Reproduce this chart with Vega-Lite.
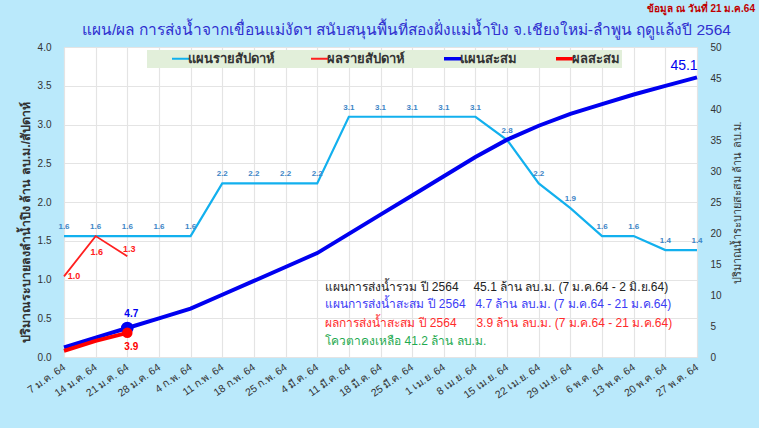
{
  "$schema": "https://vega.github.io/schema/vega-lite/v6.json",
  "width": 633,
  "height": 310,
  "autosize": "none",
  "padding": {"left": 64, "top": 47, "right": 62, "bottom": 71},
  "background": "#bae9fb",
  "title": {
    "text": "แผน/ผล การส่งน้ำจากเขื่อนแม่งัดฯ สนับสนุนพื้นที่สองฝั่งแม่น้ำปิง จ.เชียงใหม่-ลำพูน ฤดูแล้งปี 2564",
    "fontSize": 15.5,
    "fontWeight": "normal",
    "color": "#3030d0",
    "anchor": "middle",
    "frame": "group",
    "dx": 26,
    "offset": -34
  },
  "config": {
    "view": {"fill": "white", "stroke": "#d8d8d8"},
    "axis": {"labelColor": "#333333", "labelFontSize": 10, "gridColor": "#e4e4e4", "gridWidth": 1.2, "ticks": false, "domain": false}
  },
  "datasets": {
    "weekly": [
      {"d": "7 ม.ค. 64", "plan": 1.56, "actual": 1.04},
      {"d": "14 ม.ค. 64", "plan": 1.56, "actual": 1.56},
      {"d": "21 ม.ค. 64", "plan": 1.56, "actual": 1.3},
      {"d": "28 ม.ค. 64", "plan": 1.56},
      {"d": "4 ก.พ. 64", "plan": 1.56},
      {"d": "11 ก.พ. 64", "plan": 2.24},
      {"d": "18 ก.พ. 64", "plan": 2.24},
      {"d": "25 ก.พ. 64", "plan": 2.24},
      {"d": "4 มี.ค. 64", "plan": 2.24},
      {"d": "11 มี.ค. 64", "plan": 3.1},
      {"d": "18 มี.ค. 64", "plan": 3.1},
      {"d": "25 มี.ค. 64", "plan": 3.1},
      {"d": "1 เม.ย. 64", "plan": 3.1},
      {"d": "8 เม.ย. 64", "plan": 3.1},
      {"d": "15 เม.ย. 64", "plan": 2.8},
      {"d": "22 เม.ย. 64", "plan": 2.24},
      {"d": "29 เม.ย. 64", "plan": 1.92},
      {"d": "6 พ.ค. 64", "plan": 1.56},
      {"d": "13 พ.ค. 64", "plan": 1.56},
      {"d": "20 พ.ค. 64", "plan": 1.38},
      {"d": "27 พ.ค. 64", "plan": 1.38}
    ],
    "cum": [
      {"d": "7 ม.ค. 64", "plan": 1.56, "actual": 1.0},
      {"d": "14 ม.ค. 64", "plan": 3.12, "actual": 2.6},
      {"d": "21 ม.ค. 64", "plan": 4.68, "actual": 3.9},
      {"d": "28 ม.ค. 64", "plan": 6.24},
      {"d": "4 ก.พ. 64", "plan": 7.8},
      {"d": "11 ก.พ. 64", "plan": 10.04},
      {"d": "18 ก.พ. 64", "plan": 12.28},
      {"d": "25 ก.พ. 64", "plan": 14.52},
      {"d": "4 มี.ค. 64", "plan": 16.76},
      {"d": "11 มี.ค. 64", "plan": 19.86},
      {"d": "18 มี.ค. 64", "plan": 22.96},
      {"d": "25 มี.ค. 64", "plan": 26.06},
      {"d": "1 เม.ย. 64", "plan": 29.16},
      {"d": "8 เม.ย. 64", "plan": 32.26},
      {"d": "15 เม.ย. 64", "plan": 35.06},
      {"d": "22 เม.ย. 64", "plan": 37.3},
      {"d": "29 เม.ย. 64", "plan": 39.22},
      {"d": "6 พ.ค. 64", "plan": 40.78},
      {"d": "13 พ.ค. 64", "plan": 42.34},
      {"d": "20 พ.ค. 64", "plan": 43.72},
      {"d": "27 พ.ค. 64", "plan": 45.1}
    ],
    "notes": [
      {"k": "total", "a": "แผนการส่งน้ำรวม ปี 2564", "b": "45.1 ล้าน ลบ.ม. (7 ม.ค.64 - 2 มิ.ย.64)"},
      {"k": "plancum", "a": "แผนการส่งน้ำสะสม ปี 2564", "b": "4.7 ล้าน ลบ.ม. (7 ม.ค.64 - 21 ม.ค.64)"},
      {"k": "actcum", "a": "ผลการส่งน้ำสะสม ปี 2564", "b": "3.9 ล้าน ลบ.ม. (7 ม.ค.64 - 21 ม.ค.64)"},
      {"k": "remain", "a": "โควตาคงเหลือ 41.2 ล้าน ลบ.ม.", "b": ""}
    ],
    "stamp": [{"t": "ข้อมูล ณ วันที่ 21 ม.ค.64"}]
  },
  "encoding": {
    "x": {
      "field": "d",
      "type": "ordinal",
      "scale": {
        "type": "point",
        "padding": 0,
        "domain": ["7 ม.ค. 64", "14 ม.ค. 64", "21 ม.ค. 64", "28 ม.ค. 64", "4 ก.พ. 64", "11 ก.พ. 64", "18 ก.พ. 64", "25 ก.พ. 64", "4 มี.ค. 64", "11 มี.ค. 64", "18 มี.ค. 64", "25 มี.ค. 64", "1 เม.ย. 64", "8 เม.ย. 64", "15 เม.ย. 64", "22 เม.ย. 64", "29 เม.ย. 64", "6 พ.ค. 64", "13 พ.ค. 64", "20 พ.ค. 64", "27 พ.ค. 64"]
      },
      "axis": {"title": null, "labelAngle": -35, "labelAlign": "right", "labelBaseline": "middle", "labelPadding": 9, "labelFontSize": 10.5, "grid": true}
    }
  },
  "layer": [
    {
      "data": {"name": "weekly"},
      "layer": [
        {
          "mark": {"type": "line", "strokeWidth": 2.2},
          "encoding": {
            "y": {
              "field": "plan",
              "type": "quantitative",
              "scale": {"domain": [0, 4], "nice": false},
              "axis": {
                "orient": "left",
                "values": [0, 0.5, 1, 1.5, 2, 2.5, 3, 3.5, 4],
                "tickCount": 20,
                "labelOverlap": false,
                "format": ".1f",
                "grid": true,
                "labelPadding": 13,
                "title": "ปริมาณระบายลงลำน้ำปิง   ล้าน   ลบ.ม./สัปดาห์",
                "titleFontSize": 12.5,
                "titleFontWeight": "bold",
                "titleColor": "#333333",
                "titlePadding": 5,
                "titleY": 175
              }
            },
            "color": {
              "datum": "แผนรายสัปดาห์",
              "scale": {
                "domain": ["แผนรายสัปดาห์", "ผลรายสัปดาห์", "แผนสะสม", "ผลสะสม"],
                "range": ["#12b0ee", "#ff2020", "#0000f0", "#ff0000"]
              },
              "legend": {
                "orient": "none",
                "legendX": 83,
                "legendY": 3,
                "direction": "horizontal",
                "title": "\u2003",
                "titleOrient": "left",
                "titlePadding": 25,
                "titleFontSize": 13,
                "fillColor": "#e2efda",
                "padding": 2,
                "symbolType": "stroke",
                "symbolSize": 289,
                "symbolStrokeWidth": 2,
                "labelFontSize": 13,
                "labelFontWeight": "bold",
                "labelColor": "#333333",
                "labelOffset": 1,
                "columnPadding": 32,
                "encode": {"symbols": {"update": {"strokeWidth": {"signal": "datum.value == 'แผนสะสม' || datum.value == 'ผลสะสม' ? 3.5 : 2"}}}}
              }
            }
          }
        },
        {
          "transform": [{"filter": "isValid(datum.actual)"}],
          "mark": {"type": "line", "strokeWidth": 1.8},
          "encoding": {
            "y": {"field": "actual", "type": "quantitative"},
            "color": {"datum": "ผลรายสัปดาห์"}
          }
        },
        {
          "mark": {"type": "text", "dy": -9, "fontSize": 8, "fontWeight": "bold", "fill": "#3d85c6"},
          "encoding": {
            "y": {"field": "plan", "type": "quantitative"},
            "text": {"field": "plan", "type": "quantitative", "format": ".1f"}
          }
        },
        {
          "transform": [{"filter": "datum.d == '7 ม.ค. 64'"}],
          "mark": {"type": "text", "dx": 10, "fontSize": 9, "fontWeight": "bold", "fill": "#ff2020"},
          "encoding": {
            "y": {"field": "actual", "type": "quantitative"},
            "text": {"field": "actual", "type": "quantitative", "format": ".1f"}
          }
        },
        {
          "transform": [{"filter": "datum.d == '14 ม.ค. 64'"}],
          "mark": {"type": "text", "dx": 1, "dy": 16, "fontSize": 9, "fontWeight": "bold", "fill": "#ff2020"},
          "encoding": {
            "y": {"field": "actual", "type": "quantitative"},
            "text": {"field": "actual", "type": "quantitative", "format": ".1f"}
          }
        },
        {
          "transform": [{"filter": "datum.d == '21 ม.ค. 64'"}],
          "mark": {"type": "text", "dx": 2, "dy": -7, "fontSize": 9, "fontWeight": "bold", "fill": "#ff2020"},
          "encoding": {
            "y": {"field": "actual", "type": "quantitative"},
            "text": {"field": "actual", "type": "quantitative", "format": ".1f"}
          }
        },
        {
          "data": {"name": "notes"},
          "transform": [{"filter": "datum.k == 'total'"}],
          "layer": [
            {"mark": {"type": "text", "align": "left", "dx": 8, "fontSize": 12, "fill": "#222222"},
             "encoding": {"x": {"datum": "4 มี.ค. 64"}, "y": {"datum": 0.9}, "text": {"field": "a"}}},
            {"mark": {"type": "text", "align": "left", "dx": -2, "fontSize": 12, "fill": "#222222"},
             "encoding": {"x": {"datum": "8 เม.ย. 64"}, "y": {"datum": 0.9}, "text": {"field": "b"}}}
          ]
        },
        {
          "data": {"name": "notes"},
          "transform": [{"filter": "datum.k == 'plancum'"}],
          "layer": [
            {"mark": {"type": "text", "align": "left", "dx": 8, "fontSize": 12, "fill": "#3c3cf5"},
             "encoding": {"x": {"datum": "4 มี.ค. 64"}, "y": {"datum": 0.68}, "text": {"field": "a"}}},
            {"mark": {"type": "text", "align": "left", "dx": 0, "fontSize": 12, "fill": "#3c3cf5"},
             "encoding": {"x": {"datum": "8 เม.ย. 64"}, "y": {"datum": 0.68}, "text": {"field": "b"}}}
          ]
        },
        {
          "data": {"name": "notes"},
          "transform": [{"filter": "datum.k == 'actcum'"}],
          "layer": [
            {"mark": {"type": "text", "align": "left", "dx": 8, "fontSize": 12, "fill": "#ff2b2b"},
             "encoding": {"x": {"datum": "4 มี.ค. 64"}, "y": {"datum": 0.44}, "text": {"field": "a"}}},
            {"mark": {"type": "text", "align": "left", "dx": 1, "fontSize": 12, "fill": "#ff2b2b"},
             "encoding": {"x": {"datum": "8 เม.ย. 64"}, "y": {"datum": 0.44}, "text": {"field": "b"}}}
          ]
        },
        {
          "data": {"name": "notes"},
          "transform": [{"filter": "datum.k == 'remain'"}],
          "mark": {"type": "text", "align": "left", "dx": 8, "fontSize": 12, "fill": "#1faa50"},
          "encoding": {"x": {"datum": "4 มี.ค. 64"}, "y": {"datum": 0.21}, "text": {"field": "a"}}
        },
        {
          "data": {"name": "stamp"},
          "mark": {"type": "text", "align": "right", "baseline": "middle", "dx": 58, "dy": -38, "fontSize": 10, "fontWeight": "bold", "fill": "#c00000"},
          "encoding": {"x": {"datum": "27 พ.ค. 64"}, "y": {"datum": 4}, "text": {"field": "t"}}
        }
      ]
    },
    {
      "data": {"name": "cum"},
      "layer": [
        {
          "mark": {"type": "line", "strokeWidth": 4},
          "encoding": {
            "y": {
              "field": "plan",
              "type": "quantitative",
              "scale": {"domain": [0, 50], "nice": false},
              "axis": {
                "orient": "right",
                "values": [0, 5, 10, 15, 20, 25, 30, 35, 40, 45, 50],
                "tickCount": 20,
                "labelOverlap": false,
                "grid": false,
                "labelPadding": 13,
                "title": "ปริมาณน้ำระบายสะสม ล้าน ลบ.ม.",
                "titleAngle": 270,
                "titleBaseline": "top",
                "titleFontSize": 11,
                "titleFontWeight": "normal",
                "titleColor": "#333333",
                "titlePadding": 10
              }
            },
            "color": {"datum": "แผนสะสม"}
          }
        },
        {
          "transform": [{"filter": "isValid(datum.actual)"}],
          "mark": {"type": "line", "strokeWidth": 4},
          "encoding": {
            "y": {"field": "actual", "type": "quantitative"},
            "color": {"datum": "ผลสะสม"}
          }
        },
        {
          "transform": [{"filter": "datum.d == '21 ม.ค. 64'"}],
          "mark": {"type": "circle", "size": 160, "opacity": 1, "fill": "#0000f0"},
          "encoding": {"y": {"field": "plan", "type": "quantitative"}}
        },
        {
          "transform": [{"filter": "datum.d == '21 ม.ค. 64'"}],
          "mark": {"type": "circle", "size": 110, "opacity": 1, "fill": "#ff0000"},
          "encoding": {"y": {"field": "actual", "type": "quantitative"}}
        },
        {
          "transform": [{"filter": "datum.d == '21 ม.ค. 64'"}],
          "mark": {"type": "text", "dx": 4, "dy": -14, "fontSize": 10, "fontWeight": "bold", "fill": "#0000f0"},
          "encoding": {
            "y": {"field": "plan", "type": "quantitative"},
            "text": {"field": "plan", "type": "quantitative", "format": ".1f"}
          }
        },
        {
          "transform": [{"filter": "datum.d == '21 ม.ค. 64'"}],
          "mark": {"type": "text", "dx": 4, "dy": 14, "fontSize": 10, "fontWeight": "bold", "fill": "#ff0000"},
          "encoding": {
            "y": {"field": "actual", "type": "quantitative"},
            "text": {"field": "actual", "type": "quantitative", "format": ".1f"}
          }
        },
        {
          "transform": [{"filter": "datum.d == '27 พ.ค. 64'"}],
          "mark": {"type": "text", "dx": -13, "dy": -11, "fontSize": 14, "fill": "#0000f0"},
          "encoding": {
            "y": {"field": "plan", "type": "quantitative"},
            "text": {"field": "plan", "type": "quantitative", "format": ".1f"}
          }
        }
      ]
    }
  ],
  "resolve": {"scale": {"y": "independent"}}
}
